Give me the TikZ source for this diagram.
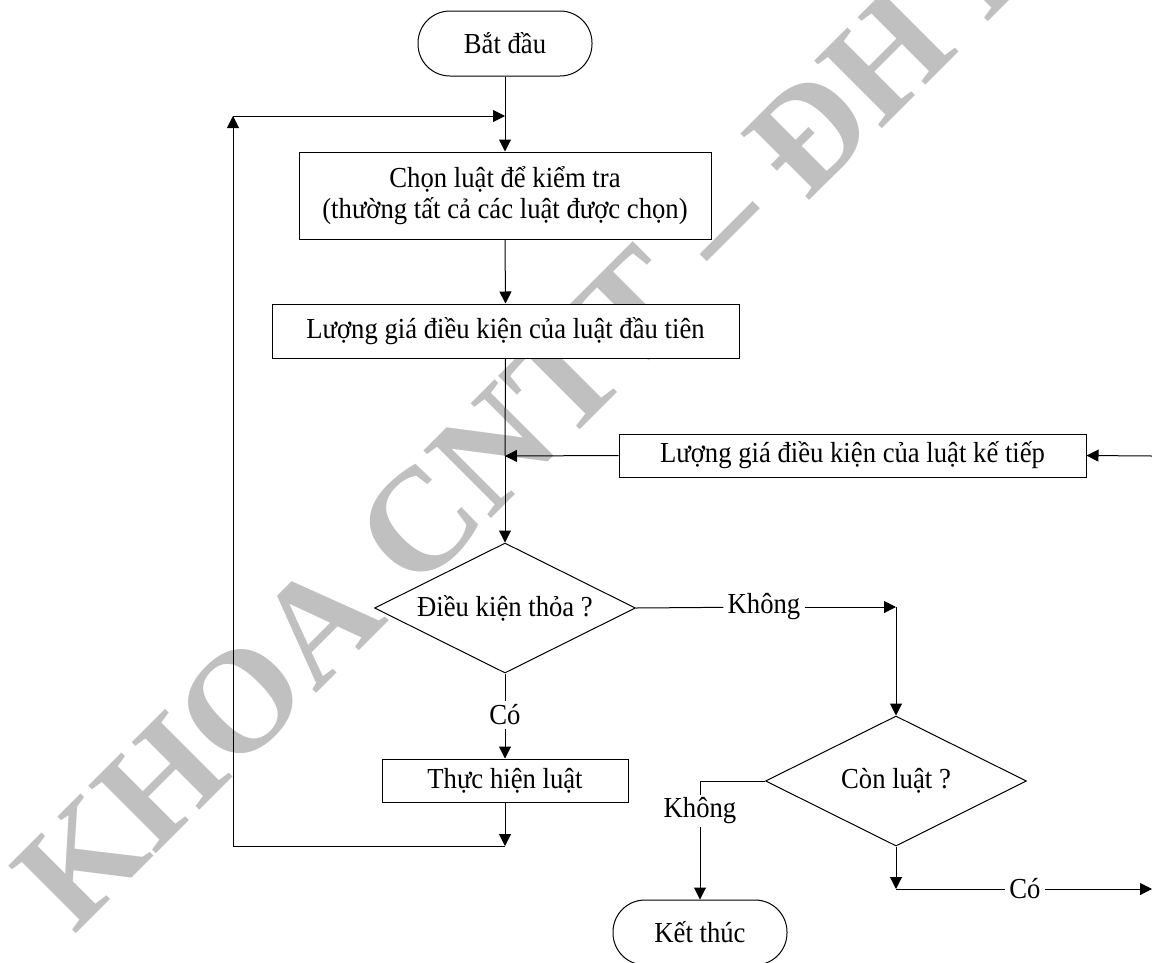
\documentclass[tikz,border=0pt]{standalone}
\usepackage{fontspec}
\setmainfont{Liberation Serif}[FakeStretch=0.92]
\newfontfamily\wmfont{Liberation Serif Bold}
\usetikzlibrary{shapes.geometric,arrows.meta}
\definecolor{wm}{RGB}{192,192,192}
\begin{document}
\begin{tikzpicture}[x=1pt,y=-1pt,
  every node/.style={font=\fontsize{29}{31}\selectfont, inner sep=0pt},
  box/.style={draw, line width=1pt, fill=white, rectangle, align=center},
  term/.style={draw, line width=1pt, fill=white, rounded corners=32pt,
               minimum width=174pt, minimum height=65pt},
  cond/.style={draw, line width=1pt, fill=white, diamond, aspect=2,
               minimum width=261pt, minimum height=130pt},
  lbl/.style={inner sep=4pt},
  link/.style={line width=1pt},
  arr/.style={link, -{Triangle[length=12pt,width=12pt]}},
]
\useasboundingbox (0,0) rectangle (1152,962);

% watermark behind the chart
\begin{scope}
  \clip (0,0) rectangle (1152,962);
  \node[rotate=45, anchor=base west, text=wm,
        font=\wmfont\fontsize{146}{146}\selectfont] (mark) at (74,936)
        {KHOA CNTT – ĐH KHTN};
\end{scope}

% steps
\node[term] (start) at (505,43.5) {Bắt đầu};
\node[box, minimum width=412pt, minimum height=87pt] (choose) at (505,195.5)
  {Chọn luật để kiểm tra\\(thường tất cả các luật được chọn)};
\node[box, minimum width=467pt, minimum height=54pt] (first) at (505.5,331)
  {Lượng giá điều kiện của luật đầu tiên};
\node[box, minimum width=467pt, minimum height=43pt] (next) at (852.5,455.5)
  {Lượng giá điều kiện của luật kế tiếp};
\node[cond] (d1) at (505,608) {Điều kiện thỏa ?};
\node[box, minimum width=246pt, minimum height=43pt] (exec) at (505,780.5)
  {Thực hiện luật};
\node[cond] (d2) at (896,781) {Còn luật ?};
\node[term] (end) at (700,932.5) {Kết thúc};

% branch labels
\node[lbl] (co1) at (505,715) {Có};
\node[lbl] (kh1) at (764,607) {Không};
\node[lbl, inner sep=3pt] (kh2) at (700,811) {Không};
\node[lbl] (co2) at (1025,889) {Có};

% junction points
\coordinate (j0) at (505,116);
\coordinate (j1) at (505,456);
\coordinate (j2) at (505,846);
\coordinate (j3) at (233,846);
\coordinate (j4) at (233,116);
\coordinate (k1) at (896,607);
\coordinate (inR) at (1152,456);
\coordinate (c2) at (896,889);
\coordinate (outR) at (1152,889);

% connectors
\draw[link] (start.south) -- (j0);
\draw[arr] (j0) -- (choose.north);
\draw[arr] (choose.south) -- (first.north);
\draw[link] (first.south) -- (j1);
\draw[arr] (j1) -- (d1.north);
\draw[arr] (inR) -- (next.east);
\draw[arr] (next.west) -- (j1);
\draw[link] (d1.south) -- (co1);
\draw[arr] (co1) -- (exec.north);
\draw[arr] (exec.south) -- (j2);
\draw[arr] (j2) -- (j3) -- (j4);
\draw[arr] (j4) -- (j0);
\draw[link] (d1.east) -- (kh1);
\draw[arr] (kh1) -- (k1);
\draw[arr] (k1) -- (d2.north);
\draw[link] (d2.west) -| (kh2);
\draw[arr] (kh2) -- (end.north);
\draw[arr] (d2.south) -- (c2);
\draw[link] (c2) -- (co2);
\draw[arr] (co2) -- (outR);
\end{tikzpicture}
\end{document}
